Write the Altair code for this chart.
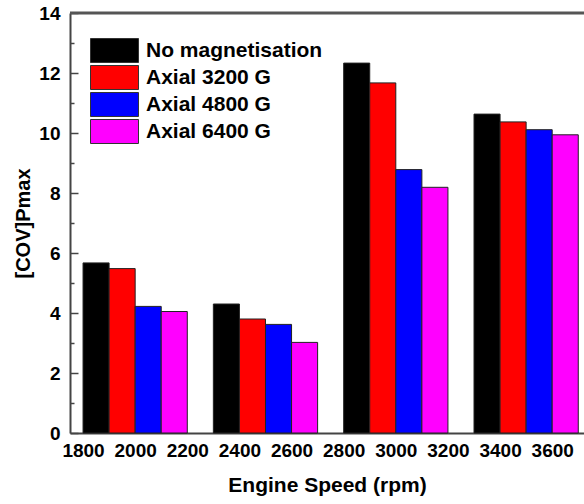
import altair as alt
import pandas as pd

speeds = [2000, 2500, 3000, 3500]
series = ["No magnetisation", "Axial 3200 G", "Axial 4800 G", "Axial 6400 G"]
colors = ["#000000", "#ff0000", "#0000ff", "#ff00ff"]
no_mag = [5.67, 4.30, 12.33, 10.63]
axial_3200 = [5.48, 3.80, 11.67, 10.37]
axial_4800 = [4.22, 3.62, 8.78, 10.11]
axial_6400 = [4.05, 3.02, 8.19, 9.94]
x_ticks = [1800, 2000, 2200, 2400, 2600, 2800, 3000, 3200, 3400, 3600]
y_major = [0, 2, 4, 6, 8, 10, 12, 14]
y_minor = [1, 3, 5, 7, 9, 11, 13]
y_top = 14

rows = []
for i, (name, vals) in enumerate(zip(series, [no_mag, axial_3200, axial_4800, axial_6400])):
    for s, v in zip(speeds, vals):
        rows.append({"speed": s, "series": name, "idx": i, "value": v})
df = pd.DataFrame(rows)

FONT = "Liberation Sans"
AX = "#444444"

xs = alt.Scale(domain=[1750, 3722], nice=False, zero=False)
ys = alt.Scale(domain=[0, 14], nice=False)

base = alt.Chart(df).transform_calculate(
    x0="datum.speed - 200 + datum.idx * 100",
    x1="datum.speed - 100 + datum.idx * 100",
)

bars = base.mark_bar(stroke="#222222", strokeWidth=1, opacity=1).encode(
    x=alt.X("x0:Q", scale=xs, axis=alt.Axis(
        orient="bottom", values=x_ticks, title="Engine Speed (rpm)", tickSize=0,
        labelPadding=8, domainColor=AX, domainWidth=2, labelFontSize=19,
        titleFontSize=21, format="d", labelFlush=False, labelOverlap=False,
        titlePadding=14, grid=False)),
    x2="x1:Q",
    y=alt.Y("value:Q", scale=ys, axis=alt.Axis(
        orient="left", values=y_major, title="[COV]Pmax", tickSize=0, labelPadding=10,
        domainColor=AX, domainWidth=2, labelFontSize=19, titleFontSize=20,
        titlePadding=5, grid=False)),
    y2=alt.datum(0),
    color=alt.Color("series:N", scale=alt.Scale(domain=series, range=colors),
                    legend=alt.Legend(
                        orient="none", legendX=32, legendY=25, title="",
                        symbolType="M-2,-1H2V1H-2Z", symbolSize=576,
                        symbolStrokeColor="#333333", symbolStrokeWidth=1,
                        symbolOpacity=1,
                        labelFont=FONT, labelFontWeight="bold", labelFontSize=21,
                        labelColor="black", labelOffset=19, rowPadding=-2,
                        padding=0, labelLimit=400)),
)

major = base.mark_bar(opacity=0).encode(
    x=alt.X("x0:Q", scale=xs, axis=None),
    x2="x1:Q",
    y=alt.Y("value:Q", scale=ys, axis=alt.Axis(
        orient="left", values=y_major, labels=False, domain=False, tickSize=8,
        offset=-8, title="", tickColor=AX, tickWidth=1.5, grid=False)),
    y2=alt.datum(0),
)

minor = base.mark_bar(opacity=0).encode(
    x=alt.X("x0:Q", scale=xs, axis=None),
    x2="x1:Q",
    y=alt.Y("value:Q", scale=ys, axis=alt.Axis(
        orient="left", values=y_minor, labels=False, domain=False, tickSize=4,
        offset=-4, title="", tickColor=AX, tickWidth=1.5, grid=False)),
    y2=alt.datum(0),
)

top_line = alt.Chart(pd.DataFrame({"top": [y_top]})).mark_rule(
    color="#555555", strokeWidth=3
).encode(y=alt.Y("top:Q", scale=ys, axis=None))

chart = alt.layer(bars, major, minor, top_line).resolve_axis(
    x="independent", y="independent"
).properties(
    width=514, height=420,
    padding={"left": 70, "top": 13, "right": 0, "bottom": 71},
    autosize="none",
).configure_view(stroke="transparent").configure_axis(
    labelFont=FONT, titleFont=FONT, labelFontWeight="bold", titleFontWeight="bold",
    labelColor="black", titleColor="black",
)

chart.save("out.html", embed_options={"renderer": "svg", "actions": False})
